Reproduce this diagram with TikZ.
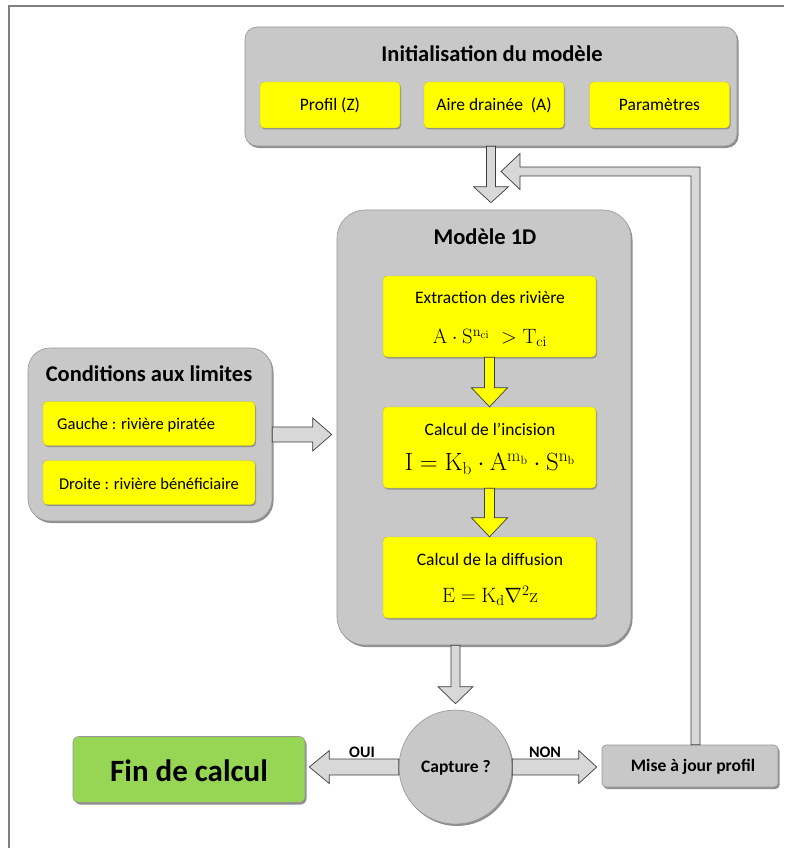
\documentclass[tikz,border=0pt]{standalone}
\usepackage[no-math]{fontspec}
\setmainfont{Carlito}
\usetikzlibrary{calc,shadows,shapes.geometric}

\definecolor{panelgray}{RGB}{200,200,200}
\definecolor{panelrim}{RGB}{150,150,150}
\definecolor{boxyellow}{RGB}{255,255,0}
\definecolor{endgreen}{RGB}{150,214,84}
\definecolor{arrowgray}{RGB}{216,216,216}
\definecolor{edgegray}{RGB}{60,60,60}
\definecolor{framegray}{RGB}{128,128,128}

% block arrow: [style]{start}{tip}{shaft half width}{head half width}{head length}
\newcommand\blockarrow[6][arrowbody]{%
  \coordinate (bahead) at ($(#3)!#6!(#2)$);
  \draw[#1] ($(#2)!#4!90:(#3)$) -- ($(bahead)!#4!90:(#3)$) -- ($(bahead)!#5!90:(#3)$) -- (#3)
    -- ($(bahead)!#5!-90:(#3)$) -- ($(bahead)!#4!-90:(#3)$) -- ($(#2)!#4!-90:(#3)$) -- cycle;}

\tikzset{
  panel/.style={draw=panelrim, line width=0.6pt, fill=panelgray, rounded corners=#1,
    inner sep=0pt,
    drop shadow={shadow xshift=1.5pt, shadow yshift=-2pt, opacity=0.55, fill=black!80}},
  itembox/.style={fill=boxyellow, draw=yellow!75!black, line width=0.4pt, rounded corners=4pt,
    inner sep=0pt, drop shadow={shadow xshift=1pt, shadow yshift=-1.5pt, opacity=0.45, fill=black!70}},
  titletext/.style={font=\bfseries\fontsize{22.5}{26}\selectfont, inner sep=0pt},
  bodytext/.style={font=\fontsize{17.5}{21}\selectfont, inner sep=0pt},
  smalltext/.style={font=\fontsize{16.5}{20}\selectfont, inner sep=0pt},
  boldsmall/.style={font=\bfseries\fontsize{17.5}{21}\selectfont, inner sep=0pt},
  labeltext/.style={font=\bfseries\fontsize{16}{19}\selectfont, inner sep=0pt},
  formula/.style={font=\fontsize{22}{26}\selectfont, inner sep=0pt},
  arrowbody/.style={fill=arrowgray, draw=edgegray, line width=0.7pt, line join=miter},
  yellowarrow/.style={fill=boxyellow, draw=edgegray, line width=0.7pt, line join=miter},
}

\begin{document}
\begin{tikzpicture}[x=1pt,y=-1pt]
\useasboundingbox (0,0) rectangle (784,848);

% page frame
\draw[framegray, line width=1.5pt] (9,848) -- (9,6) -- (784,6);

% initialisation panel
\node[panel=12pt, minimum width=492pt, minimum height=119pt] (init) at (491,86.5) {};
\node[titletext] (inittitle) at (492,54) {Initialisation du modèle};
\node[itembox, minimum width=140pt, minimum height=46pt, bodytext] (prof) at (330,105) {Profil (Z)};
\node[itembox, minimum width=140pt, minimum height=46pt, bodytext] (aire) at (494,105) {Aire drainée~ (A)};
\node[itembox, minimum width=140pt, minimum height=46pt, bodytext] (param) at (659.5,105) {Paramètres};

% 1D model panel
\node[panel=28pt, minimum width=294pt, minimum height=435pt] (model) at (484,427.5) {};
\node[titletext] (modeltitle) at (485,237) {Modèle 1D};

\node[itembox, minimum width=213pt, minimum height=81pt] (m1) at (489.5,316.5) {};
\node[bodytext] (m1t) at (490,297) {Extraction des rivière};
\node[formula] (m1f) at (490,338) {$\mathrm{A}\cdot\mathrm{S}^{\mathrm{n}_{\mathrm{ci}}}\;>\mathrm{T}_{\mathrm{ci}}$};

\node[itembox, minimum width=213pt, minimum height=81pt] (m2) at (489.5,447.5) {};
\node[bodytext] (m2t) at (490,429) {Calcul de l’incision};
\node[formula, font=\fontsize{23}{27}\selectfont] (m2f) at (490,464) {$\mathrm{I}=\mathrm{K}_{\mathrm{b}}\cdot\mathrm{A}^{\mathrm{m}_{\mathrm{b}}}\cdot\mathrm{S}^{\mathrm{n}_{\mathrm{b}}}$};

\node[itembox, minimum width=213pt, minimum height=81pt] (m3) at (489.5,577.5) {};
\node[bodytext] (m3t) at (490,559) {Calcul de la diffusion};
\node[formula] (m3f) at (490,596) {$\mathrm{E}=\mathrm{K}_{\mathrm{d}}\nabla^{2}\mathrm{z}$};

% boundary conditions panel
\node[panel=22pt, minimum width=244pt, minimum height=173pt] (cond) at (150,434.5) {};
\node[titletext] (condtitle) at (149,374) {Conditions aux limites};
\node[itembox, minimum width=212pt, minimum height=44pt] (c1) at (149,423.5) {};
\node[smalltext, anchor=west] (c1t) at (57,425) {Gauche : rivière piratée};
\node[itembox, minimum width=212pt, minimum height=44pt] (c2) at (149,482.5) {};
\node[smalltext] (c2t) at (149,484) {Droite : rivière bénéficiaire};

% decision and outcomes
\node[panel=0pt, shape=ellipse, minimum width=113pt, minimum height=114pt] (capture) at (455.5,767) {};
\node[boldsmall] (capturet) at (456,767.5) {Capture ?};
\node[panel=6pt, fill=endgreen, minimum width=232pt, minimum height=66pt] (done) at (189,769.5) {};
\node[font=\bfseries\fontsize{31}{36}\selectfont, inner sep=0pt] (donet) at (189,771) {Fin de calcul};
\node[panel=4pt, minimum width=176pt, minimum height=42pt] (upd) at (690,766) {};
\node[font=\bfseries\fontsize{17.5}{21}\selectfont, inner sep=0pt] (updt) at (693,767) {Mise à jour profil};

\node[labeltext] (oui) at (362,752) {OUI};
\node[labeltext] (non) at (545,752) {NON};

% connector end points
\coordinate (initin) at ($(model.north -| init.south)+(0,-7)$);
\coordinate (condin) at ($(model.west |- cond.east)+(-5,0)$);
\coordinate (modelout) at (model.south -| capture.north);
\coordinate (capin) at ($(capture.north)+(0,-6)$);
\coordinate (ouiin) at ($(done.east |- capture.west)+(4,0)$);
\coordinate (nonin) at ($(upd.west |- capture.east)+(-5,0)$);
\coordinate (fbcorner) at (695.5,171.5);
\coordinate (fbtip) at (501,171.5);

% connectors
\blockarrow{init.south}{initin}{4.5pt}{17.5pt}{16pt}
\blockarrow{cond.east}{condin}{7.5pt}{16.5pt}{19pt}
\blockarrow[yellowarrow]{m1.south}{m2.north}{5pt}{18pt}{19pt}
\blockarrow[yellowarrow]{m2.south}{m3.north}{5pt}{18pt}{19pt}
\blockarrow{modelout}{capin}{4.5pt}{17.5pt}{17pt}
\blockarrow{capture.west}{ouiin}{8pt}{16.5pt}{20pt}
\blockarrow{capture.east}{nonin}{8pt}{16.5pt}{18pt}

% feedback loop from the profile update back to the model
\draw[arrowbody] ($(upd.north -| fbcorner)+(-4.5,0)$) -- ($(fbcorner)+(-4.5,4.5)$)
  -- ($(fbtip)+(19,4.5)$) -- ($(fbtip)+(19,18)$) -- (fbtip) -- ($(fbtip)+(19,-18)$)
  -- ($(fbtip)+(19,-4.5)$) -- ($(fbcorner)+(4.5,-4.5)$) -- ($(upd.north -| fbcorner)+(4.5,0)$) -- cycle;

\end{tikzpicture}
\end{document}
